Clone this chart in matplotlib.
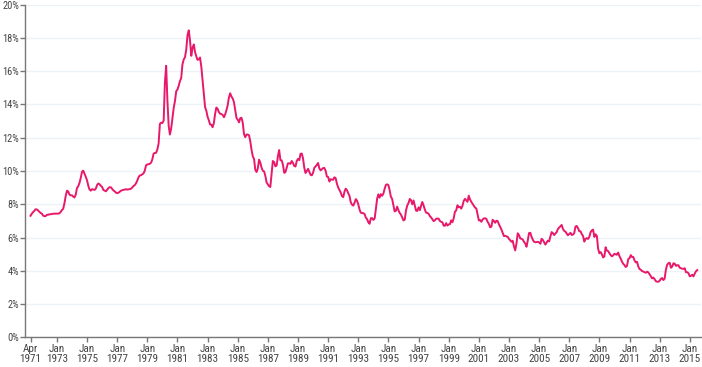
import numpy as np
import pandas as pd
from matplotlib import pyplot as plt
from matplotlib import font_manager as fm
from matplotlib.ticker import FuncFormatter

#: Monthly average 30-year fixed mortgage rate (%), Apr 1971 onward.
START = "1971-04-01"

RATES_1971 = [7.31, 7.43, 7.53, 7.60, 7.70, 7.69, 7.63, 7.55, 7.48]
RATES_1972 = [7.44, 7.32, 7.29, 7.29, 7.37, 7.37, 7.40, 7.40, 7.42, 7.43, 7.44, 7.44]
RATES_1973 = [7.44, 7.44, 7.46, 7.54, 7.65, 7.73, 8.05, 8.50, 8.82, 8.77, 8.58, 8.54]
RATES_1974 = [8.54, 8.46, 8.41, 8.58, 8.97, 9.09, 9.28, 9.59, 9.96, 10.02, 9.84, 9.65]
RATES_1975 = [9.43, 9.10, 8.89, 8.82, 8.91, 8.89, 8.86, 8.94, 9.16, 9.25, 9.20, 9.11]
RATES_1976 = [9.04, 8.86, 8.82, 8.78, 8.87, 8.97, 9.03, 9.02, 8.92, 8.83, 8.78, 8.70]
RATES_1977 = [8.67, 8.70, 8.75, 8.82, 8.84, 8.87, 8.88, 8.91, 8.88, 8.90, 8.91, 8.94]
RATES_1978 = [9.01, 9.10, 9.15, 9.26, 9.42, 9.62, 9.73, 9.75, 9.80, 9.86, 10.03, 10.35]
RATES_1979 = [10.39, 10.41, 10.43, 10.50, 10.69, 11.04, 11.09, 11.09, 11.30, 11.64, 12.83, 12.90]
RATES_1980 = [12.88, 13.04, 15.28, 16.32, 14.26, 12.71, 12.19, 12.56, 13.20, 13.79, 14.21, 14.79]
RATES_1981 = [14.90, 15.13, 15.40, 15.58, 16.40, 16.70, 16.83, 17.29, 18.16, 18.45, 17.83, 16.92]
RATES_1982 = [17.40, 17.60, 17.16, 16.89, 16.68, 16.70, 16.82, 16.27, 15.43, 14.61, 13.83, 13.62]
RATES_1983 = [13.25, 13.04, 12.80, 12.78, 12.63, 12.87, 13.42, 13.81, 13.73, 13.54, 13.44, 13.42]
RATES_1984 = [13.37, 13.23, 13.39, 13.65, 13.94, 14.42, 14.67, 14.47, 14.35, 14.13, 13.64, 13.18]
RATES_1985 = [13.08, 12.92, 13.17, 13.20, 12.91, 12.22, 12.03, 12.19, 12.19, 12.14, 11.78, 11.26]
RATES_1986 = [10.88, 10.71, 10.08, 9.94, 10.14, 10.68, 10.51, 10.20, 10.01, 9.98, 9.70, 9.31]
RATES_1987 = [9.20, 9.08, 9.04, 9.83, 10.60, 10.54, 10.28, 10.33, 10.89, 11.26, 10.65, 10.64]
RATES_1988 = [10.38, 9.89, 9.93, 10.20, 10.46, 10.46, 10.43, 10.60, 10.48, 10.30, 10.27, 10.61]
RATES_1989 = [10.73, 10.65, 11.03, 11.05, 10.77, 10.20, 9.88, 9.99, 10.13, 9.95, 9.77, 9.74]
RATES_1990 = [9.90, 10.20, 10.27, 10.37, 10.48, 10.16, 10.04, 10.10, 10.18, 10.18, 10.01, 9.67]
RATES_1991 = [9.64, 9.37, 9.50, 9.49, 9.47, 9.62, 9.58, 9.24, 9.01, 8.86, 8.71, 8.50]
RATES_1992 = [8.43, 8.76, 8.94, 8.85, 8.67, 8.51, 8.13, 7.98, 7.92, 8.09, 8.31, 8.22]
RATES_1993 = [7.99, 7.68, 7.50, 7.47, 7.47, 7.42, 7.21, 7.11, 6.92, 6.83, 7.16, 7.17]
RATES_1994 = [7.06, 7.15, 7.68, 8.32, 8.60, 8.40, 8.61, 8.51, 8.64, 8.93, 9.17, 9.20]
RATES_1995 = [9.15, 8.83, 8.46, 8.32, 7.96, 7.57, 7.61, 7.86, 7.64, 7.48, 7.38, 7.20]
RATES_1996 = [7.03, 7.08, 7.62, 7.93, 8.07, 8.32, 8.25, 8.00, 8.23, 7.92, 7.62, 7.60]
RATES_1997 = [7.82, 7.65, 7.90, 8.14, 7.94, 7.69, 7.50, 7.48, 7.43, 7.29, 7.21, 7.10]
RATES_1998 = [6.99, 7.04, 7.13, 7.14, 7.14, 7.00, 6.95, 6.92, 6.72, 6.71, 6.87, 6.72]
RATES_1999 = [6.79, 6.81, 7.04, 6.92, 7.15, 7.55, 7.63, 7.94, 7.82, 7.85, 7.74, 7.91]
RATES_2000 = [8.21, 8.33, 8.24, 8.15, 8.52, 8.29, 8.15, 8.03, 7.91, 7.80, 7.75, 7.38]
RATES_2001 = [7.03, 7.05, 6.95, 7.08, 7.15, 7.16, 7.13, 6.95, 6.82, 6.62, 6.66, 7.07]
RATES_2002 = [7.00, 6.89, 7.01, 6.99, 6.81, 6.65, 6.49, 6.29, 6.09, 6.11, 6.07, 6.05]
RATES_2003 = [5.92, 5.84, 5.75, 5.81, 5.48, 5.23, 5.63, 6.26, 6.15, 5.95, 5.93, 5.88]
RATES_2004 = [5.74, 5.64, 5.45, 5.83, 6.27, 6.29, 6.06, 5.87, 5.75, 5.72, 5.73, 5.75]
RATES_2005 = [5.71, 5.63, 5.93, 5.86, 5.72, 5.58, 5.70, 5.82, 5.77, 6.07, 6.33, 6.27]
RATES_2006 = [6.15, 6.25, 6.32, 6.51, 6.60, 6.68, 6.76, 6.52, 6.40, 6.36, 6.24, 6.14]
RATES_2007 = [6.22, 6.29, 6.16, 6.18, 6.26, 6.66, 6.70, 6.57, 6.38, 6.38, 6.21, 6.10]
RATES_2008 = [5.76, 5.92, 5.97, 5.92, 6.04, 6.32, 6.43, 6.48, 6.04, 6.20, 6.09, 5.33]
RATES_2009 = [5.06, 5.13, 5.00, 4.81, 4.86, 5.42, 5.22, 5.19, 5.06, 4.95, 4.88, 4.93]
RATES_2010 = [5.03, 4.99, 4.97, 5.10, 4.89, 4.74, 4.56, 4.43, 4.35, 4.23, 4.30, 4.71]
RATES_2011 = [4.76, 4.95, 4.84, 4.84, 4.64, 4.51, 4.55, 4.27, 4.11, 4.07, 3.99, 3.96]
RATES_2012 = [3.92, 3.89, 3.95, 3.91, 3.80, 3.68, 3.55, 3.60, 3.50, 3.38, 3.35, 3.35]
RATES_2013 = [3.41, 3.53, 3.57, 3.45, 3.54, 4.07, 4.37, 4.46, 4.49, 4.19, 4.26, 4.46]
RATES_2014 = [4.43, 4.30, 4.34, 4.34, 4.19, 4.16, 4.13, 4.12, 4.16, 3.92, 3.92, 3.86]
RATES_2015 = [3.67, 3.71, 3.77, 3.67, 3.84, 3.98, 4.05]

rates = (
    RATES_1971 + RATES_1972 + RATES_1973 + RATES_1974 + RATES_1975 + RATES_1976
    + RATES_1977 + RATES_1978 + RATES_1979 + RATES_1980 + RATES_1981 + RATES_1982
    + RATES_1983 + RATES_1984 + RATES_1985 + RATES_1986 + RATES_1987 + RATES_1988
    + RATES_1989 + RATES_1990 + RATES_1991 + RATES_1992 + RATES_1993 + RATES_1994
    + RATES_1995 + RATES_1996 + RATES_1997 + RATES_1998 + RATES_1999 + RATES_2000
    + RATES_2001 + RATES_2002 + RATES_2003 + RATES_2004 + RATES_2005 + RATES_2006
    + RATES_2007 + RATES_2008 + RATES_2009 + RATES_2010 + RATES_2011 + RATES_2012
    + RATES_2013 + RATES_2014 + RATES_2015
)
dates = pd.date_range(START, periods=len(rates), freq="MS")

TICK_DATES = ["1971-04-01"] + [f"{y}-01-01" for y in range(1973, 2016, 2)]
TICK_LABELS = ["Apr\n1971"] + [f"Jan\n{y}" for y in range(1973, 2016, 2)]

LINE = "#e8186a"
TEXT = "#444444"
AXIS = "#777777"
GRID = "#edf2f7"

# narrow sans if there is one, else fall back
available = {f.name for f in fm.fontManager.ttflist}
narrow = [f for f in ("Roboto Condensed", "Archivo Narrow", "PT Sans Narrow",
                      "Liberation Sans Narrow", "Open Sans Condensed")
          if f in available]
plt.rcParams["font.family"] = narrow[:1] + ["DejaVu Sans"]

fig = plt.figure(figsize=(7.02, 3.67), dpi=100)
ax = fig.add_axes([0.036, 0.0804, 0.962, 0.9073])

ax.plot(dates, rates, color=LINE, lw=1.4, zorder=3)

ax.set_ylim(0, 20)
ax.set_yticks(np.arange(0, 21, 2))
ax.yaxis.set_major_formatter(FuncFormatter(lambda v, _: f"{v:.0f}%"))
ax.set_xlim(pd.Timestamp("1970-11-25"), pd.Timestamp("2015-09-20"))
ax.set_xticks(pd.to_datetime(TICK_DATES))
ax.set_xticklabels(TICK_LABELS)

ax.grid(axis="y", color=GRID, lw=1, zorder=0)
for side in ("top", "right"):
    ax.spines[side].set_visible(False)
for side in ("left", "bottom"):
    ax.spines[side].set_color(AXIS)
    ax.spines[side].set_linewidth(1)
ax.tick_params(axis="x", colors=AXIS, labelcolor=TEXT, labelsize=8,
               length=3.5, width=1, pad=1.5)
ax.tick_params(axis="y", colors=AXIS, labelcolor=TEXT, labelsize=7.5,
               length=3.5, width=1, pad=1)
for lbl in ax.get_xticklabels():
    lbl.set_linespacing(0.95)

fig.savefig("out.png", dpi=100)
